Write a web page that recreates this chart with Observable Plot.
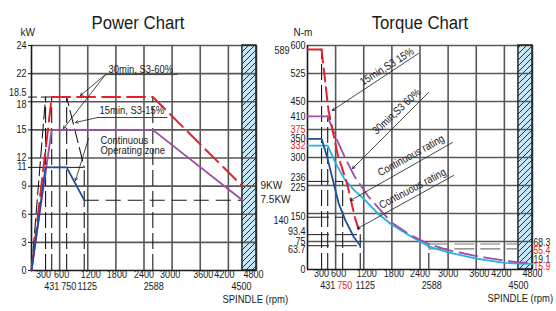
<!DOCTYPE html>
<html>
<head>
<meta charset="utf-8">
<script src="https://cdn.jsdelivr.net/npm/d3@7"></script>
<script src="https://cdn.jsdelivr.net/npm/@observablehq/plot@0.6"></script>
<style>
html,body{margin:0;padding:0;background:#fff;}
#wrap{position:relative;width:556px;height:311px;overflow:hidden;}
#wrap > svg{position:absolute;top:0;overflow:visible;background:transparent;}
</style>
</head>
<body>
<div id="wrap"></div>
<script>
// ---------------- DATA ----------------
const rpmRow1 = [300, 600, 1200, 1800, 2400, 3000, 3600, 4200, 4800];
const rpmRow2 = [431, 750, 1125, 2588, 4500];
const rpmGrid = [600, 1200, 1800, 2400, 3000, 3600, 4200, 4800];
const overspeedRpm = [4500, 4800];

// Power chart (kW)
const kwTicks = [0, 3, 6, 9, 11, 12, 15, 18, 18.5, 21, 24];
const kwTickLabels = ["0", "3", "6", "9", "11", "12", "15", "18", "18.5", "22", "24"];
const kwGrid = [3, 6, 9, 12, 15, 18, 21, 24];
const pRedRpm = [0, 431, 2588, 4500];
const pRedKw = [0, 18.5, 18.5, 9];
const pPurpleRpm = [0, 431, 2588, 4500];
const pPurpleKw = [0, 15, 15, 7.5];
const pBlueRpm = [0, 300, 750, 1125];
const pBlueKw = [0, 11, 11, 7.5];
const pBlackRpm = [0, 300, 750, 1125];
const pBlackKw = [0, 18.5, 18.5, 11];
const pGuideRpm = [300, 431, 750, 1125, 2588];
const pGuideTop = [18.5, 18.5, 18.5, 11, 18.5];
const pEndKw = [9, 7.5];
const pEndLabels = ["9KW", "7.5KW"];
const pNoteText = ["30min, S3-60%", "15min, S3-15%", "Continuous", "Operating zone"];
const pNoteRpm = [1643, 1451, 1472, 1472];
const pNoteKw = [21.44, 17.07, 13.87, 12.8];
const pUnderRpm1 = [1579, 1408];
const pUnderRpm2 = [3115, 2901];
const pUnderKw = [20.9, 16.32];
const pArrowFromRpm = [1579, 1579, 1408, 1216];
const pArrowFromKw = [20.9, 20.9, 16.32, 14.08];
const pArrowToRpm = [1045, 683, 939, 939];
const pArrowToKw = [18.67, 15.15, 15.79, 9.6];

// Torque chart (N-m)
const nmTicks = [0, 63.7, 75, 93.4, 140, 150, 225, 236, 300, 332, 350, 375, 410, 450, 525, 589, 600];
const nmGrid = [75, 150, 225, 300, 375, 450, 525, 600];
const tRedRpm = [0, 300, 448, 640, 846, 1010, 1125];
const tRedNm = [589, 589, 426, 310, 229, 140, 93.4];
const tPurpleRpm = [0, 431, 600, 800, 1000, 1300, 1800, 2200, 2588, 3000, 3600, 4200, 4500, 4800];
const tPurpleNm = [410, 410, 355, 300, 250, 195, 125, 92, 68.3, 52, 36, 24, 19.1, 18];
const tCyanRpm = [0, 431, 600, 800, 1000, 1200, 1500, 1800, 2200, 2588, 3000, 3600, 4200, 4500, 4800];
const tCyanNm = [332, 332, 285, 240, 212, 189, 150, 120, 89, 62, 46, 29, 18, 15.9, 15];
const tBlueRpm = [0, 300, 420, 526, 668, 811, 988, 1125];
const tBlueNm = [350, 350, 301, 247, 176, 131, 87, 63.7];
const tGuideRpm = [300, 431, 750, 1125, 2588];
const tGuideTop = [589, 410, 236, 93.4, 68.3];
const tLevelNm = [236, 140, 93.4, 63.7];
const tLevelEnd = [750, 750, 1125, 1125];
const tRightNm = [68.3, 55.4];
const tEndNm = [68.3, 55.4, 19.1, 15.9];
const tEndLabels = ["68.3", "55.4", "19.1", "15.9"];
const tNoteText = ["15min,S3 15%", "30min,S3 60%", "Continuous rating", "Continuous rating"];
const tNoteRpm = [1696, 1899, 2208, 2240];
const tNoteNm = [543.7, 423.2, 305.4, 217];
const tArrowFromRpm = [2368, 2581, 3093, 3115];
const tArrowFromNm = [578.6, 474.1, 340.2, 251.8];
const tArrowToRpm = [527, 960, 917, 1067];
const tArrowToNm = [426, 270.5, 184.8, 109.8];

// ---------------- STYLE ----------------
const F = '"Liberation Sans", Arial, Helvetica, sans-serif';
const FN = 'NarrowTick, "Liberation Sans", Arial, sans-serif';
const FT = 'NarrowTitle, "Liberation Sans", Arial, sans-serif';
const RED = "#e4222b", PURPLE = "#a14ba7", NAVY = "#1c4f9f", CYAN = "#22b3e6", GRID = "#575757", INK = "#1a1a1a";
const TICK = 10.5;
const pts = (xs, ys) => xs.map((x, i) => ({x, y: ys[i]}));

function addHatch(svg, id) {
  const defs = d3.select(svg).insert("defs", ":first-child");
  const p = defs.append("pattern").attr("id", id).attr("patternUnits", "userSpaceOnUse")
    .attr("width", 6).attr("height", 6);
  p.append("rect").attr("width", 6).attr("height", 6).attr("fill", "#c6e7f5");
  p.append("path").attr("d", "M-1.5,1.5 L1.5,-1.5 M0,6 L6,0 M4.5,7.5 L7.5,4.5")
    .attr("stroke", "#1a1a1a").attr("stroke-width", 0.9);
}

// condense texts horizontally (the reference uses a narrow face)
function condense(svg, prefix, s) {
  d3.select(svg).selectAll("text").each(function () {
    const fam = this.getAttribute("font-family") || (this.parentNode && this.parentNode.getAttribute("font-family")) || "";
    if (!fam.startsWith(prefix)) return;
    const t = this.getAttribute("transform") || "";
    this.setAttribute("transform", `${t} scale(${s},1)`);
    const x = this.getAttribute("x");
    if (x != null && x !== "" && !isNaN(+x)) this.setAttribute("x", +x / s);
  });
}

function xLabels(nudge1, nudge2, redSet) {
  const m = [];
  rpmRow1.forEach(v => m.push(Plot.text([v], {x: d => d, text: d => String(d), frameAnchor: "bottom", dy: 7, dx: nudge1[v] || 0, fontSize: TICK, fontFamily: FN, fill: INK})));
  rpmRow2.forEach(v => m.push(Plot.text([v], {x: d => d, text: d => String(d), frameAnchor: "bottom", dy: 19, dx: nudge2[v] || 0, fontSize: TICK, fontFamily: FN, fill: redSet.includes(v) ? RED : INK})));
  return m;
}

// ---------------- POWER ----------------
const pNudgeY = {"18": 3, "18.5": -4.5, "11": -1};
const pNudgeX1 = {300: -2, 600: 2, 1200: 3, 1800: 1, 3000: -2, 3600: 3, 4200: -4, 4800: -3};
const pNudgeX2 = {750: 2, 1125: 3, 2588: 1, 4500: -1};
const kwTop = kwTicks[kwTicks.length - 1];

const powerMarks = [
  Plot.rect([overspeedRpm], {x1: d => d[0], x2: d => d[1], y1: () => 0, y2: () => kwTop, fill: "url(#hatchP)"}),
  Plot.ruleX(rpmGrid, {stroke: GRID, strokeWidth: 1.6}),
  Plot.ruleY(kwGrid, {stroke: GRID, strokeWidth: 1.6}),
  Plot.rect([overspeedRpm], {x1: d => d[0], x2: d => d[1], y1: () => 0, y2: () => kwTop, fill: "none", stroke: INK, strokeWidth: 1.4}),
  Plot.ruleX([0], {stroke: INK, strokeWidth: 1.6}),
  Plot.ruleY([0], {stroke: INK, strokeWidth: 1.6}),
  Plot.axisY(kwTicks, {tickSize: 3, tickFormat: () => "", stroke: INK}),
  Plot.ruleX(pts(pGuideRpm, pGuideTop), {x: "x", y1: () => 0, y2: "y", stroke: INK, strokeWidth: 1.1, strokeDasharray: "16,5"}),
  Plot.ruleY([{y: pBlueKw[3], x1: pBlueRpm[3], x2: overspeedRpm[0]}], {y: "y", x1: "x1", x2: "x2", stroke: INK, strokeWidth: 1.1, strokeDasharray: "15,7"}),
  Plot.ruleY([{y: pBlueKw[1], x1: 0, x2: pBlueRpm[3]}], {y: "y", x1: "x1", x2: "x2", stroke: INK, strokeWidth: 1}),
  Plot.ruleY([{y: pRedKw[1], x1: 0, x2: pBlackRpm[1]}], {y: "y", x1: "x1", x2: "x2", stroke: INK, strokeWidth: 1, strokeDasharray: "6,4"}),
  Plot.line(pts(pBlackRpm, pBlackKw), {x: "x", y: "y", stroke: INK, strokeWidth: 1.1, strokeDasharray: "14,5"}),
  Plot.line(pts(pPurpleRpm, pPurpleKw), {x: "x", y: "y", stroke: PURPLE, strokeWidth: 1.8}),
  Plot.line(pts(pRedRpm, pRedKw), {x: "x", y: "y", stroke: RED, strokeWidth: 2, strokeDasharray: "18,7"}),
  Plot.line(pts(pBlueRpm, pBlueKw), {x: "x", y: "y", stroke: NAVY, strokeWidth: 1.8}),
  // annotations
  Plot.link(pUnderKw.map((k, i) => ({x1: pUnderRpm1[i], x2: pUnderRpm2[i], y: k})), {x1: "x1", x2: "x2", y1: "y", y2: "y", stroke: "#444", strokeWidth: 1}),
  Plot.arrow(pArrowToRpm.map((r, i) => ({x1: pArrowFromRpm[i], y1: pArrowFromKw[i], x2: r, y2: pArrowToKw[i]})), {x1: "x1", y1: "y1", x2: "x2", y2: "y2", stroke: INK, strokeWidth: 0.8, headLength: 5}),
  Plot.text(pNoteText.map((t, i) => ({t, x: pNoteRpm[i], y: pNoteKw[i]})), {x: "x", y: "y", text: "t", textAnchor: "start", fontSize: 11, fontFamily: FN, fill: INK}),
  Plot.text(pEndKw.map((k, i) => ({y: k, t: pEndLabels[i]})), {frameAnchor: "right", y: "y", text: "t", textAnchor: "start", dx: 4, fontSize: 10, fill: INK}),
  ...kwTicks.map((v, i) => Plot.text([i], {frameAnchor: "left", y: j => kwTicks[j], text: j => kwTickLabels[j], textAnchor: "end", dx: -5, dy: pNudgeY[kwTickLabels[i]] || 0, fontSize: TICK, fontFamily: FN, fill: INK})),
  ...xLabels(pNudgeX1, pNudgeX2, []),
  Plot.text(["Power Chart"], {frameAnchor: "top", dx: -6, dy: -30, fontSize: 19, fontFamily: FT, fill: INK}),
  Plot.text(["kW"], {frameAnchor: "top-left", dx: -11, dy: -17, fontSize: 10, fill: INK}),
  Plot.text(["SPINDLE (rpm)"], {frameAnchor: "bottom-right", textAnchor: "start", dx: -34, dy: 32, fontSize: 11, fontFamily: FN, fill: INK})
];

const power = Plot.plot({
  width: 278, height: 311,
  marginLeft: 31, marginRight: 22, marginTop: 45, marginBottom: 41,
  x: {domain: [0, 4800], axis: null},
  y: {domain: [0, kwTop], axis: null},
  style: {fontFamily: F, background: "transparent", overflow: "visible"},
  marks: powerMarks
});
addHatch(power, "hatchP");
condense(power, "NarrowTick", 0.86);
condense(power, "NarrowTitle", 0.88);
power.style.left = "0px";

// ---------------- TORQUE ----------------
const nmTop = nmTicks[nmTicks.length - 1];
const tNudgeY = {"589": [-16, 1], "140": [-17, 3], "236": [0, -4], "225": [0, 2], "150": [0, 3], "93.4": [0, -3], "63.7": [0, 4]};
const tRedTicks = [332, 375];
const tNudgeX1 = {600: 3, 1200: 3, 1800: 2, 3600: 3, 4200: -3};
const tNudgeX2 = {750: 2, 1125: 5, 2588: 3};
const tEndNudge = [-1, 2, -3, 3];
const tEndColor = [INK, RED, INK, RED];
const tNoteAngle = [-32, -43, -29, -28];

const torqueMarks = [
  Plot.rect([overspeedRpm], {x1: d => d[0], x2: d => d[1], y1: () => 0, y2: () => nmTop, fill: "url(#hatchT)"}),
  Plot.ruleX(rpmGrid, {stroke: GRID, strokeWidth: 1.6}),
  Plot.ruleY(nmGrid, {stroke: GRID, strokeWidth: 1.6}),
  Plot.rect([overspeedRpm], {x1: d => d[0], x2: d => d[1], y1: () => 0, y2: () => nmTop, fill: "none", stroke: INK, strokeWidth: 1.4}),
  Plot.ruleX([0], {stroke: INK, strokeWidth: 1.6}),
  Plot.ruleY([0], {stroke: INK, strokeWidth: 1.6}),
  Plot.ruleX(pts(tGuideRpm, tGuideTop), {x: "x", y1: () => 0, y2: "y", stroke: INK, strokeWidth: 1.1, strokeDasharray: "16,5"}),
  Plot.ruleY(pts(tLevelEnd, tLevelNm), {y: "y", x1: () => 0, x2: "x", stroke: INK, strokeWidth: 1, strokeDasharray: "22,6"}),
  Plot.ruleY(tRightNm, {y: d => d, x1: () => tGuideRpm[4], x2: () => overspeedRpm[0], stroke: "#777", strokeWidth: 1.2, strokeDasharray: "20,6"}),
  Plot.line(pts(tCyanRpm, tCyanNm), {x: "x", y: "y", stroke: CYAN, strokeWidth: 1.8}),
  Plot.line(pts(tPurpleRpm.slice(0, 2), tPurpleNm.slice(0, 2)), {x: "x", y: "y", stroke: PURPLE, strokeWidth: 1.8}),
  Plot.line(pts(tPurpleRpm.slice(1), tPurpleNm.slice(1)), {x: "x", y: "y", stroke: PURPLE, strokeWidth: 1.8, strokeDasharray: "18,7"}),
  Plot.line(pts(tRedRpm.slice(0, 2), tRedNm.slice(0, 2)), {x: "x", y: "y", stroke: RED, strokeWidth: 2}),
  Plot.line(pts(tRedRpm.slice(1), tRedNm.slice(1)), {x: "x", y: "y", stroke: RED, strokeWidth: 2, strokeDasharray: "13,6"}),
  Plot.line(pts(tBlueRpm, tBlueNm), {x: "x", y: "y", stroke: NAVY, strokeWidth: 1.8}),
  // annotations
  Plot.arrow(tArrowToRpm.map((r, i) => ({x1: tArrowFromRpm[i], y1: tArrowFromNm[i], x2: r, y2: tArrowToNm[i]})), {x1: "x1", y1: "y1", x2: "x2", y2: "y2", stroke: INK, strokeWidth: 0.8, headLength: 5}),
  ...tNoteText.map((t, i) => Plot.text([i], {x: j => tNoteRpm[j], y: j => tNoteNm[j], text: j => tNoteText[j], rotate: tNoteAngle[i], fontSize: 11, fontFamily: FN, fill: INK})),
  ...tEndNm.map((v, i) => Plot.text([i], {frameAnchor: "right", y: j => tEndNm[j], text: j => tEndLabels[j], textAnchor: "start", dx: 1, dy: tEndNudge[i], fontSize: 10, fontFamily: FN, fill: tEndColor[i]})),
  ...nmTicks.map(v => {
    const k = String(v); const n = tNudgeY[k] || [0, 0];
    return Plot.text([v], {frameAnchor: "left", y: d => d, text: d => String(d), textAnchor: "end", dx: -2 + n[0], dy: n[1], fontSize: TICK, fontFamily: FN, fill: tRedTicks.includes(v) ? RED : INK});
  }),
  ...xLabels(tNudgeX1, tNudgeX2, [750]),
  Plot.text(["Torque Chart"], {frameAnchor: "top", dx: 0, dy: -30, fontSize: 19, fontFamily: FT, fill: INK}),
  Plot.text(["N-m"], {frameAnchor: "top-left", dx: -14, dy: -17, fontSize: 10, fill: INK}),
  Plot.text(["SPINDLE (rpm)"], {frameAnchor: "bottom-right", textAnchor: "start", dx: -45, dy: 32, fontSize: 11, fontFamily: FN, fill: INK})
];

const torque = Plot.plot({
  width: 278, height: 311,
  marginLeft: 29, marginRight: 24, marginTop: 45, marginBottom: 42,
  x: {domain: [0, 4800], axis: null},
  y: {domain: [0, nmTop], axis: null},
  style: {fontFamily: F, background: "transparent", overflow: "visible"},
  marks: torqueMarks
});
addHatch(torque, "hatchT");
condense(torque, "NarrowTick", 0.86);
condense(torque, "NarrowTitle", 0.88);
torque.style.left = "278px";

const wrap = document.getElementById("wrap");
wrap.appendChild(power);
wrap.appendChild(torque);
</script>
</body>
</html>
